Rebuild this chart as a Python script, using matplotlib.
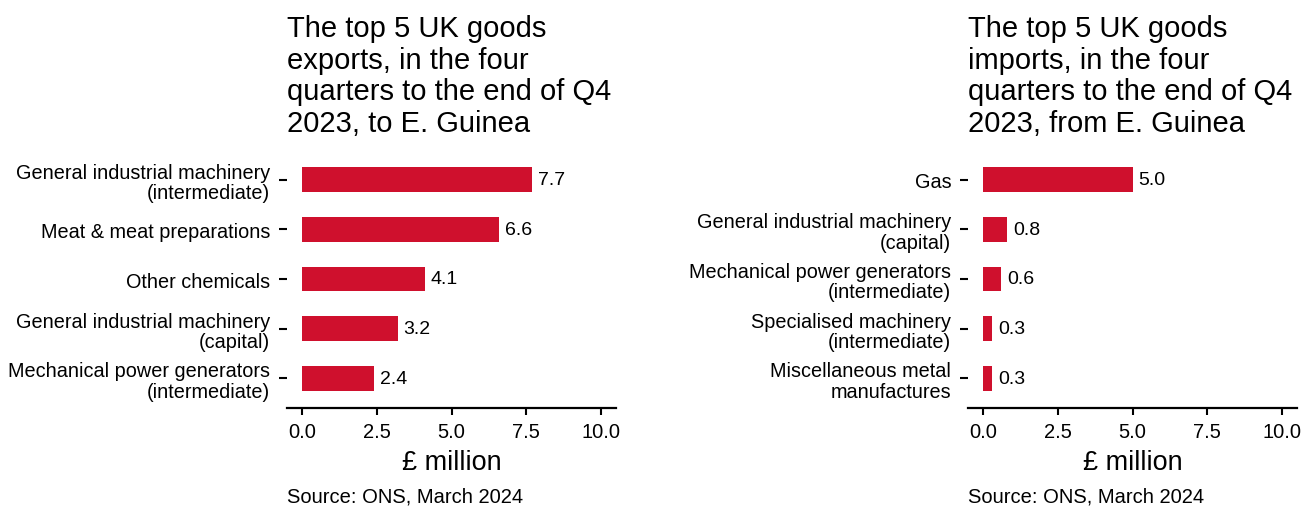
import matplotlib.pyplot as plt

plt.rcParams['font.family'] = ['Liberation Sans', 'DejaVu Sans']

exp_labels = ["General industrial machinery\n(intermediate)", "Meat & meat preparations",
              "Other chemicals", "General industrial machinery\n(capital)",
              "Mechanical power generators\n(intermediate)"]
exp_values = [7.7, 6.6, 4.1, 3.2, 2.4]
exp_title = "The top 5 UK goods\nexports, in the four\nquarters to the end of Q4\n2023, to E. Guinea"

imp_labels = ["Gas", "General industrial machinery\n(capital)",
              "Mechanical power generators\n(intermediate)",
              "Specialised machinery\n(intermediate)",
              "Miscellaneous metal\nmanufactures"]
imp_values = [5.0, 0.8, 0.6, 0.3, 0.3]
imp_title = "The top 5 UK goods\nimports, in the four\nquarters to the end of Q4\n2023, from E. Guinea"

xticks = [0, 2.5, 5, 7.5, 10]
bar_col = "#CF102D"

W, H = 1311, 510
fig = plt.figure(figsize=(W / 100, H / 100), dpi=100)


def panel(left_px, labels, values, title):
    ax = fig.add_axes([left_px / W, (H - 409) / H, 329 / W, 258 / H])
    pos = list(range(len(values)))
    ax.barh(pos, values, height=0.5, color=bar_col)
    for p, v in zip(pos, values):
        ax.text(v + 0.2, p, f"{v:.1f}", va="center", ha="left", fontsize=14)
    ax.set_yticks(pos)
    ax.set_yticklabels(labels, fontsize=14.3, linespacing=1.1)
    ax.set_ylim(4.6, -0.6)
    ax.set_xlim(-0.5, 10.5)
    ax.set_xticks(xticks)
    ax.set_xticklabels([f"{t:.1f}" for t in xticks], fontsize=14.5)
    for s in ["left", "right", "top"]:
        ax.spines[s].set_visible(False)
    ax.spines["bottom"].set_linewidth(1.6)
    ax.tick_params(axis="y", length=6, width=1.5, pad=6)
    ax.tick_params(axis="x", length=5, width=1.5, pad=5)
    ax.set_xlabel("£ million", fontsize=19.5, labelpad=6)
    ax.text(0, 1.05, title, transform=ax.transAxes, fontsize=21,
            ha="left", va="bottom", linespacing=1.17)
    fig.text(left_px / W, (H - 497) / H, "Source: ONS, March 2024", fontsize=14.5,
             ha="left", va="center")


panel(287, exp_labels, exp_values, exp_title)
panel(968, imp_labels, imp_values, imp_title)

fig.savefig("out.png", dpi=100)
